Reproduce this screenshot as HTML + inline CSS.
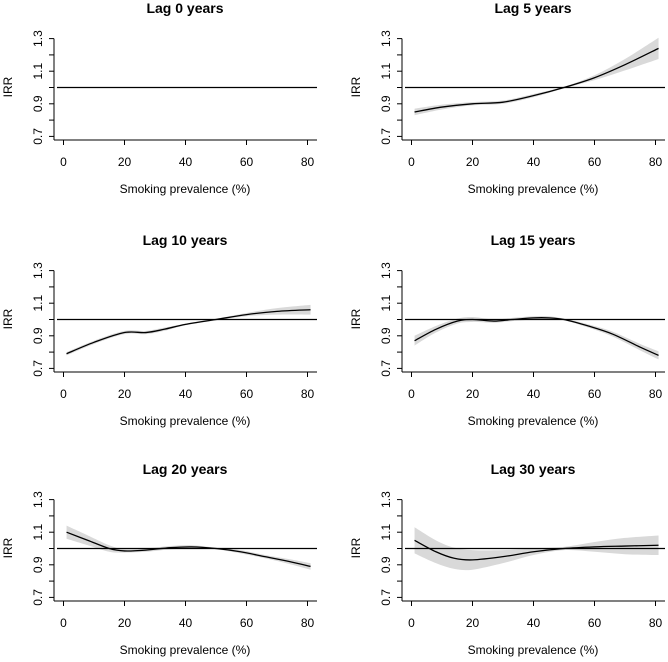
<!DOCTYPE html>
<html><head><meta charset="utf-8"><style>
body{margin:0;background:#fff;width:668px;height:662px;overflow:hidden}
svg{display:block}
text{font-family:"Liberation Sans",Arial,sans-serif;fill:#000}
</style></head><body>
<svg id="chart" width="668" height="662"></svg>
<script>
const titles=["Lag 0 years","Lag 5 years","Lag 10 years","Lag 15 years","Lag 20 years","Lag 30 years"];
const xs0=[1,81];const est0=[1,1];const se0=[0,0];
const xs5=[1,10,20,30,40,50,60,70,81];const est5=[0.85,0.88,0.90,0.91,0.95,1.00,1.06,1.14,1.24];const se5=[0.02,0.015,0.01,0.01,0.01,0.005,0.015,0.035,0.065];
const xs10=[1,10,20,27,33,40,50,60,70,81];const est10=[0.79,0.86,0.92,0.92,0.94,0.97,1.00,1.03,1.05,1.06];const se10=[0.01,0.01,0.01,0.01,0.01,0.005,0.005,0.01,0.02,0.03];
const xs15=[1,8,15,20,27,33,40,45,50,58,66,75,81];const est15=[0.87,0.94,0.99,1.0,0.99,1.0,1.01,1.01,1.0,0.96,0.91,0.83,0.78];const se15=[0.03,0.02,0.015,0.015,0.01,0.01,0.01,0.01,0.005,0.01,0.015,0.02,0.025];
const xs20=[1,8,15,20,27,35,42,50,58,66,74,81];const est20=[1.10,1.05,1.0,0.985,0.99,1.005,1.01,1.0,0.98,0.95,0.92,0.89];const se20=[0.04,0.03,0.02,0.01,0.01,0.01,0.01,0.005,0.01,0.01,0.015,0.02];
const xs30=[1,8,14,20,30,40,50,60,70,81];const est30=[1.05,0.98,0.94,0.93,0.95,0.98,1.0,1.01,1.015,1.02];const se30=[0.08,0.07,0.065,0.06,0.04,0.02,0.01,0.03,0.05,0.06];
const xTicks=[0,20,40,60,80];const yTicks=[0.7,0.8,0.9,1.0,1.1,1.2,1.3];const yLabels=["0.7","","0.9","","1.1","","1.3"];
const series=[[xs0,est0,se0],[xs5,est5,se5],[xs10,est10,se10],[xs15,est15,se15],[xs20,est20,se20],[xs30,est30,se30]];
const svg=document.getElementById('chart');const NS="http://www.w3.org/2000/svg";
function mk(t,a,p){const e=document.createElementNS(NS,t);for(const k in a)e.setAttribute(k,a[k]);p.appendChild(e);return e;}
function smooth(pts){ // catmull-rom to bezier
  let d='M'+pts[0][0]+','+pts[0][1];
  for(let i=0;i<pts.length-1;i++){
    const p0=pts[Math.max(0,i-1)],p1=pts[i],p2=pts[i+1],p3=pts[Math.min(pts.length-1,i+2)];
    const c1=[p1[0]+(p2[0]-p0[0])/6,p1[1]+(p2[1]-p0[1])/6];
    const c2=[p2[0]-(p3[0]-p1[0])/6,p2[1]-(p3[1]-p1[1])/6];
    d+=` C${c1[0]},${c1[1]} ${c2[0]},${c2[1]} ${p2[0]},${p2[1]}`;
  }
  return d;
}
const colOff=[0,348],rowOff=[0,232,461];
series.forEach((s,i)=>{
  const ox=colOff[i%2],oy=rowOff[Math.floor(i/2)];
  const g=mk('g',{transform:`translate(${ox},${oy})`},svg);
  
  
  const X=v=>63.5+(v)*3.05, Y=v=>87.5-(v-1)*163;
  const [xs,est,se]=s;
  if(i>0){
    const up=xs.map((x,j)=>[X(x),Y(est[j]+se[j])]);
    const lo=xs.map((x,j)=>[X(x),Y(est[j]-se[j])]).reverse();
    const d=smooth(up)+' L'+smooth(lo).slice(1)+' Z';
    const band=mk('path',{d:d,fill:'#d9d9d9',stroke:'none'},g);
    
    
  }
  const ref=mk('line',{x1:57,x2:317,y1:Y(1),y2:Y(1),stroke:'#000','stroke-width':1.2},g);
  
  
  if(i>0){
    const ln=mk('path',{d:smooth(xs.map((x,j)=>[X(x),Y(est[j])])),fill:'none',stroke:'#000','stroke-width':1.3},g);
    
    
  }
  mk('line',{x1:54,x2:54,y1:Y(1.3),y2:140,stroke:'#000'},g);
  mk('line',{x1:54,x2:317,y1:140,y2:140,stroke:'#000'},g);
  yTicks.forEach((t,j)=>{mk('line',{x1:49,x2:54,y1:Y(t),y2:Y(t),stroke:'#000'},g);
    if(yLabels[j]){const tx=mk('text',{x:0,y:0,'font-size':12,'text-anchor':'middle',transform:`translate(${42},${Y(t)}) rotate(-90)`},g);tx.textContent=yLabels[j];
    }});
  xTicks.forEach(t=>{mk('line',{x1:X(t),x2:X(t),y1:140,y2:145,stroke:'#000'},g);
    const tx=mk('text',{x:X(t),y:166,'font-size':12,'text-anchor':'middle'},g);tx.textContent=t;
    });
  const tt=mk('text',{x:185,y:13,'font-size':14,'font-weight':'bold','text-anchor':'middle'},g);tt.textContent=titles[i];
  
  const xt=mk('text',{x:185,y:193,'font-size':12,'text-anchor':'middle'},g);xt.textContent="Smoking prevalence (%)";
  
  const yt=mk('text',{x:0,y:0,'font-size':12,'text-anchor':'middle',transform:`translate(12,87) rotate(-90)`},g);yt.textContent="IRR";
  
});
</script>
</body></html>
